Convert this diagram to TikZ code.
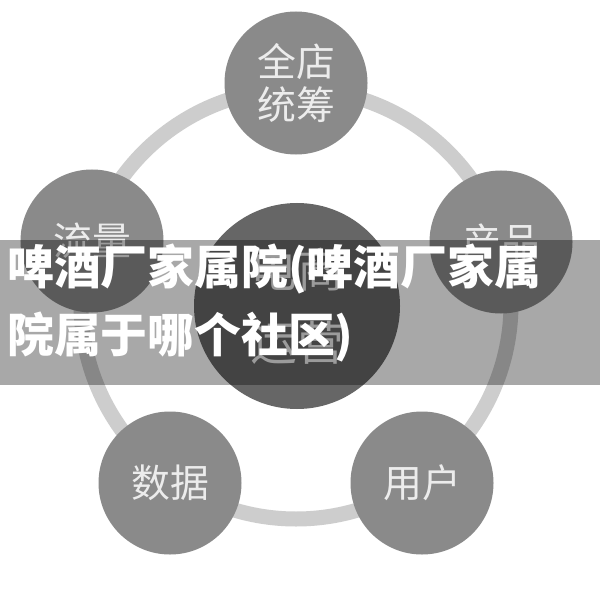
\documentclass[tikz,border=0pt]{standalone}
\usepackage{fontspec}
\newfontfamily\cjk{Noto Sans CJK SC}
\usetikzlibrary{positioning}

\definecolor{ringgray}{HTML}{CDCDCD}
\definecolor{ballgray}{HTML}{8A8A8A}
\definecolor{hubgray}{HTML}{666666}
\definecolor{labelgray}{HTML}{ECECEC}

\newcommand{\lift}[1]{\raisebox{4bp}{#1}}

\tikzset{
    ball/.style={circle, fill=ballgray, minimum size=143bp, inner sep=0pt,
        text=labelgray, align=center, font=\cjk\fontsize{39}{43}\selectfont},
    hub/.style={circle, fill=hubgray, minimum size=206bp, inner sep=0pt,
        text=labelgray, align=center, font=\cjk\fontsize{47}{73}\selectfont},
    banner/.style={black, opacity=0.34},
    headline/.style={inner sep=0pt, text=white, align=left,
        font=\cjk\bfseries\fontsize{47}{69}\selectfont},
}

\begin{document}
\begin{tikzpicture}[x=1bp, y=-1bp]
    \useasboundingbox[fill=white] (0,0) rectangle (600,595);

    % ring behind the five balls
    \draw[ringgray, line width=15bp] (296,304) circle [radius=215];

    % centre
    \node[hub] (hub) at (297,306) {电商\\运营};

    % five balls round the ring
    \node[ball] (plan) at (296,83) {全店\\统筹};
    \node[ball] (flow) at (92,241) {\lift{流量}};
    \node[ball] (goods) at (501,242) {\lift{产品}};
    \node[ball] (data) at (170,483) {\lift{数据}};
    \node[ball] (users) at (422,483) {\lift{用户}};

    % banner over the picture
    \fill[banner] (0,240) rectangle (600,385);
    \node[headline, anchor=west] (title) at (7,303) {啤酒厂家属院(啤酒厂家属\\院属于哪个社区)};
\end{tikzpicture}
\end{document}
